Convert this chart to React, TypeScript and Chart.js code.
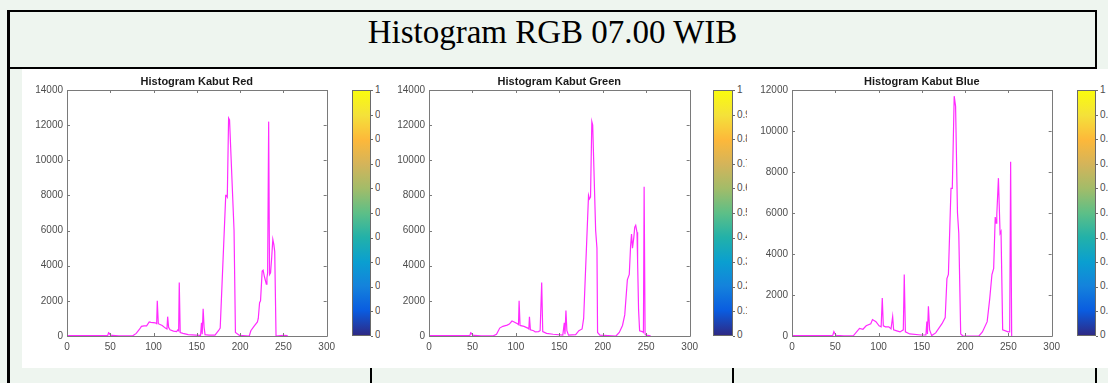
import React, { useEffect, useRef } from "react";
import { Chart, registerables } from "chart.js";

Chart.register(...registerables);

const pageTitle = "Histogram RGB 07.00 WIB";
const panelTitles = ["Histogram Kabut Red", "Histogram Kabut Green", "Histogram Kabut Blue"];

const xTicksMax = 300;
const xStep = 50;
const yStep = 2000;
const yMaxRed = 14000;
const yMaxGreen = 14000;
const yMaxBlue = 12000;

const colorbarTicks = ["1", "0.9", "0.8", "0.7", "0.6", "0.5", "0.4", "0.3", "0.2", "0.1", "0"];

const redBins = [0, 47, 48, 49, 50, 52, 60, 76, 80, 84, 86, 89, 92, 95, 97, 102, 103.6, 104.3, 105.5, 110, 113.7, 115.5, 116.3, 117.4, 119, 123, 126.7, 128, 129, 129.7, 130.8, 134, 140, 149, 154.3, 155.4, 156.2, 157.3, 158.4, 159.5, 164, 171, 175, 177, 183.4, 184, 185.2, 186.7, 187.8, 193, 194.6, 199.4, 210.6, 212.4, 216, 220, 221, 222.5, 223.6, 225.5, 226.6, 228, 230.3, 231, 231.8, 233, 234, 235.2, 236.4, 237.8, 239, 240, 241.5, 250, 255];
const redCounts = [20, 20, 190, 150, 60, 30, 10, 10, 150, 400, 550, 580, 580, 800, 780, 750, 700, 2000, 700, 600, 450, 400, 1100, 500, 350, 280, 250, 350, 300, 3050, 200, 150, 80, 50, 30, 750, 100, 1550, 500, 80, 50, 50, 300, 450, 8000, 8000, 7900, 12400, 12300, 6000, 200, 30, 0, 300, 550, 800, 1000, 1900, 2000, 3700, 3750, 3400, 2950, 3300, 3600, 12200, 3500, 3600, 4400, 5500, 5200, 4800, 0, 30, 20];

const greenBins = [0, 47, 48, 49, 50, 52, 60, 74, 77.7, 81.4, 85, 90, 92.5, 95.5, 98, 101.8, 103, 103.7, 104.8, 109.3, 113.7, 114.9, 115.6, 116.7, 120.4, 122.3, 126, 127.9, 129.7, 130.9, 135.3, 142.8, 154, 155.7, 156.5, 157.6, 158.7, 160.6, 168.8, 172.5, 176.2, 178, 183.6, 184.7, 185.9, 187.4, 188.4, 191.8, 193.3, 194, 196.7, 215.2, 219, 222.7, 225.3, 228.3, 230.5, 232, 233.1, 234.2, 235.7, 236.8, 237.9, 239.4, 240.1, 241.2, 242.4, 245.4, 246.8, 247.6, 248.7, 249.8, 253.5, 255];
const greenCounts = [20, 20, 190, 150, 60, 30, 10, 10, 100, 450, 550, 620, 680, 850, 800, 700, 650, 2000, 600, 550, 450, 400, 1100, 350, 300, 230, 250, 300, 3050, 250, 150, 100, 50, 750, 100, 1450, 300, 50, 80, 300, 400, 1000, 8000, 7800, 7900, 12200, 12000, 6000, 5000, 200, 50, 0, 200, 600, 1200, 3200, 3500, 5100, 5800, 5000, 5600, 6200, 6300, 5900, 4200, 1500, 300, 250, 200, 8500, 100, 50, 20, 20];

const blueBins = [0, 47, 48.4, 49.5, 51, 60, 70.8, 78, 82, 85.7, 91, 93, 97, 100.6, 103, 104.3, 105.5, 108, 111.8, 114.4, 116.3, 117.4, 121, 124.8, 128.6, 129.7, 131, 136, 149, 154.7, 155.8, 156.5, 157.6, 159, 161.4, 166, 173.3, 177, 179, 180.7, 183.7, 185.2, 187.4, 189, 191.2, 192.7, 194.9, 197.5, 216, 220, 225.5, 228.4, 231, 233, 234.8, 236, 236.6, 238.5, 240.4, 241.5, 243.4, 249.7, 251.5, 252.6, 253.8];
const blueCounts = [20, 20, 210, 120, 30, 10, 10, 370, 330, 500, 600, 800, 700, 500, 450, 1850, 500, 450, 450, 350, 950, 300, 250, 200, 300, 3000, 200, 100, 50, 50, 700, 100, 1450, 300, 20, 150, 600, 900, 2800, 3000, 7200, 7200, 11700, 11200, 6000, 5000, 100, 0, 0, 200, 700, 1800, 3000, 3300, 5800, 5500, 5900, 7700, 5000, 5100, 300, 200, 200, 8500, 0];

const parulaStops = ["#f9fb0e", "#f4e13a", "#fdb83a", "#d4b45a", "#a2bc69", "#5dbf87", "#22b1a9", "#0a9fd0", "#1482dc", "#0a5ce0", "#2e2a85"];

const FONT = "'Liberation Sans', Arial, Helvetica, sans-serif";
const PANEL_TOP = 69;
const PANEL_H = 299;
const PLOT_TOP_OFF = 21;
const X_AXIS_H = 32;
const Y_AXIS_W = 50;
const RIGHT_PAD = 5;

const matlabBox = {
  id: "matlabBox",
  afterDraw(chart: any, _args: any, opts: any) {
    const { ctx, chartArea } = chart;
    const { left, right, top, bottom } = chartArea;
    const xs = chart.scales.x;
    const ys = chart.scales.y;
    ctx.save();
    ctx.strokeStyle = "#7a7a7a";
    ctx.lineWidth = 1;
    ctx.beginPath();
    ctx.rect(Math.round(left) + 0.5, Math.round(top) + 0.5, Math.round(right - left), Math.round(bottom - top));
    ctx.stroke();
    const tl = 3;
    ctx.beginPath();
    xs.ticks.forEach((t: any) => {
      const px = Math.round(xs.getPixelForValue(t.value)) + 0.5;
      ctx.moveTo(px, bottom);
      ctx.lineTo(px, bottom - tl);
      ctx.moveTo(px, top);
      ctx.lineTo(px, top + tl);
    });
    ys.ticks.forEach((t: any) => {
      const py = Math.round(ys.getPixelForValue(t.value)) + 0.5;
      ctx.moveTo(left, py);
      ctx.lineTo(left + tl, py);
      ctx.moveTo(right, py);
      ctx.lineTo(right - tl, py);
    });
    ctx.stroke();
    ctx.fillStyle = "#1a1a1a";
    ctx.font = "bold 11px " + FONT;
    ctx.textAlign = "center";
    ctx.textBaseline = "middle";
    ctx.fillText(opts.text, (left + right) / 2, 13);
    ctx.restore();
  },
};

function Panel(props: {
  title: string;
  bins: number[];
  counts: number[];
  yMax: number;
  plotLeft: number;
  plotRight: number;
  cbLeft: number;
  cbRight: number;
  clipLeft: number;
  clipRight: number;
}) {
  const ref = useRef<HTMLCanvasElement>(null);
  const { title, bins, counts, yMax, plotLeft, plotRight, cbLeft, cbRight, clipLeft, clipRight } = props;
  const canvasLeft = plotLeft - Y_AXIS_W;
  const canvasW = plotRight - plotLeft + Y_AXIS_W + RIGHT_PAD;

  useEffect(() => {
    if (!ref.current) return;
    const points = bins.map((b, i) => ({ x: b, y: counts[i] }));
    const chart = new Chart(ref.current, {
      type: "line",
      data: {
        datasets: [
          {
            data: points,
            borderColor: "#ff2bff",
            borderWidth: 1.2,
            pointRadius: 0,
            tension: 0,
            fill: false,
          },
        ],
      },
      options: {
        responsive: false,
        animation: false,
        devicePixelRatio: 1,
        layout: { padding: { left: 0, right: RIGHT_PAD, top: PLOT_TOP_OFF, bottom: 0 } },
        plugins: {
          legend: { display: false },
          tooltip: { enabled: false },
          title: { display: false },
          matlabBox: { text: title },
        } as any,
        scales: {
          x: {
            type: "linear",
            min: 0,
            max: xTicksMax,
            grid: { display: false, drawTicks: false },
            border: { display: false },
            ticks: {
              stepSize: xStep,
              padding: 5,
              color: "#4d4d4d",
              font: { family: FONT, size: 10 },
              maxRotation: 0,
              callback: (v: any) => String(v),
            },
            afterFit: (s: any) => {
              s.height = X_AXIS_H;
            },
          },
          y: {
            type: "linear",
            min: 0,
            max: yMax,
            grid: { display: false, drawTicks: false },
            border: { display: false },
            ticks: {
              stepSize: yStep,
              padding: 4,
              color: "#4d4d4d",
              font: { family: FONT, size: 10 },
              callback: (v: any) => String(v),
            },
            afterFit: (s: any) => {
              s.width = Y_AXIS_W;
            },
          },
        },
      },
      plugins: [matlabBox],
    });
    return () => chart.destroy();
  }, []);

  const cbTop = PLOT_TOP_OFF;
  const cbH = PANEL_H - PLOT_TOP_OFF - X_AXIS_H;

  return (
    <div
      style={{
        position: "absolute",
        left: clipLeft,
        top: PANEL_TOP,
        width: clipRight - clipLeft,
        height: PANEL_H,
        background: "#ffffff",
        overflow: "hidden",
      }}
    >
      <canvas
        ref={ref}
        width={canvasW}
        height={PANEL_H}
        style={{ position: "absolute", left: canvasLeft - clipLeft, top: 0, width: canvasW, height: PANEL_H }}
      />
      <div
        style={{
          position: "absolute",
          left: cbLeft - clipLeft,
          top: cbTop,
          width: cbRight - cbLeft,
          height: cbH,
          boxSizing: "border-box",
          border: "1px solid #6a6a6a",
          background: "linear-gradient(to bottom, " + parulaStops.join(", ") + ")",
        }}
      />
      {colorbarTicks.map((t, i) => (
        <React.Fragment key={t}>
          <div
            style={{
              position: "absolute",
              left: cbRight - clipLeft,
              top: cbTop + (i * cbH) / 10,
              width: 2,
              height: 1,
              background: "#6a6a6a",
            }}
          />
          <div
            style={{
              position: "absolute",
              left: cbRight - clipLeft + 4,
              top: cbTop + (i * (cbH - 1)) / 10 - 7,
              font: "10px " + FONT,
              lineHeight: "14px",
              color: "#4d4d4d",
              whiteSpace: "nowrap",
            }}
          >
            {t}
          </div>
        </React.Fragment>
      ))}
    </div>
  );
}

export default function App() {
  const bg = "#eef5ef";
  const line = "#000000";
  return (
    <div
      style={{
        position: "absolute",
        left: 0,
        top: 0,
        width: 1108,
        height: 383,
        overflow: "hidden",
        background: bg,
      }}
    >
      <div style={{ position: "absolute", left: 7, top: 10, width: 1090, height: 2, background: line }} />
      <div style={{ position: "absolute", left: 7, top: 10, width: 3, height: 373, background: line }} />
      <div style={{ position: "absolute", left: 1095, top: 10, width: 2, height: 59, background: line }} />
      <div style={{ position: "absolute", left: 7, top: 67, width: 1090, height: 2, background: line }} />
      <div
        style={{
          position: "absolute",
          left: 10,
          top: 16,
          width: 1085,
          textAlign: "center",
          fontFamily: "'Liberation Serif', 'Times New Roman', serif",
          fontSize: 33,
          lineHeight: "33px",
          color: "#000",
        }}
      >
        {pageTitle}
      </div>
      <div style={{ position: "absolute", left: 370, top: 368, width: 2, height: 15, background: line }} />
      <div style={{ position: "absolute", left: 732, top: 368, width: 2, height: 15, background: line }} />
      <div style={{ position: "absolute", left: 1095, top: 368, width: 2, height: 15, background: line }} />

      <Panel
        title={panelTitles[0]}
        bins={redBins}
        counts={redCounts}
        yMax={yMaxRed}
        plotLeft={67}
        plotRight={335}
        cbLeft={352}
        cbRight={371}
        clipLeft={22}
        clipRight={380}
      />
      <Panel
        title={panelTitles[1]}
        bins={greenBins}
        counts={greenCounts}
        yMax={yMaxGreen}
        plotLeft={429}
        plotRight={698}
        cbLeft={713}
        cbRight={733}
        clipLeft={380}
        clipRight={747}
      />
      <Panel
        title={panelTitles[2]}
        bins={blueBins}
        counts={blueCounts}
        yMax={yMaxBlue}
        plotLeft={792}
        plotRight={1060}
        cbLeft={1077}
        cbRight={1096}
        clipLeft={747}
        clipRight={1108}
      />
    </div>
  );
}
